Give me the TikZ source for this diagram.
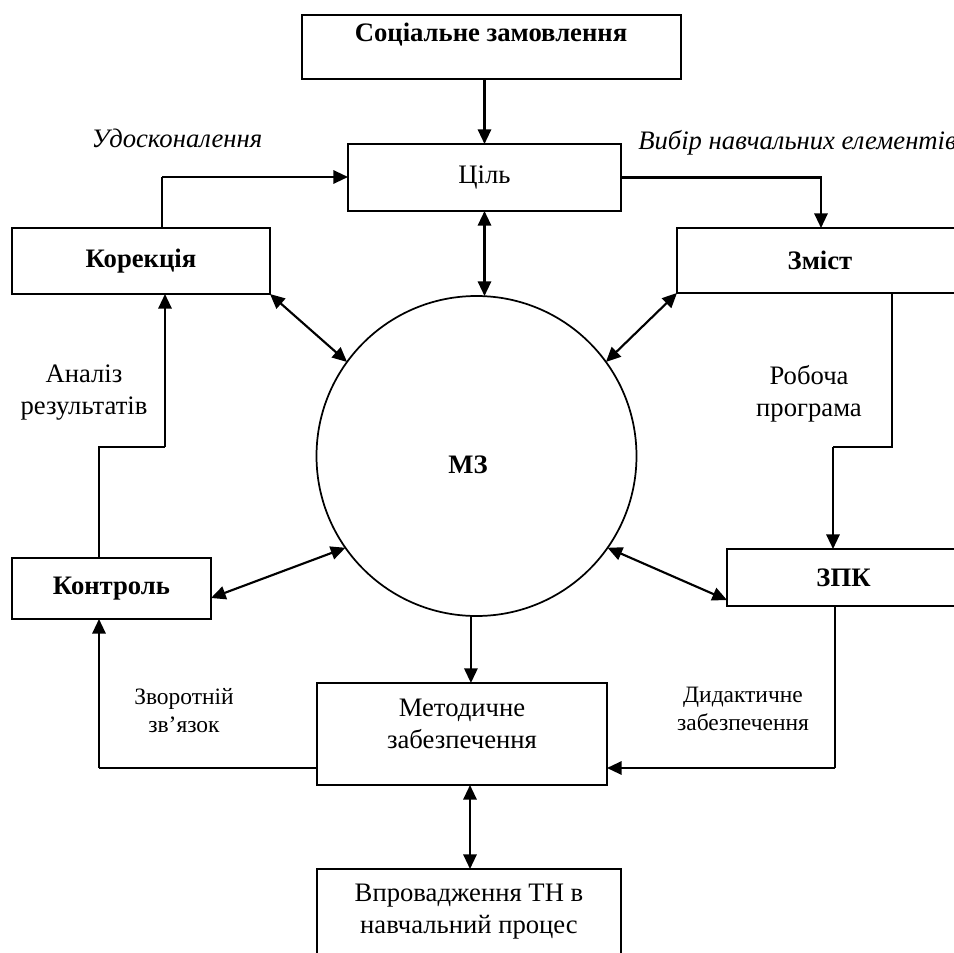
\documentclass[tikz,border=0pt]{standalone}
\usepackage{fontspec}
\setmainfont{Liberation Serif}
\usetikzlibrary{arrows.meta,calc}
\begin{document}
\begin{tikzpicture}[x=0.75pt,y=-0.75pt,
  box/.style={draw,line width=1.5pt,inner sep=0pt,outer sep=0pt},
  lbl/.style={font=\fontsize{20}{24}\selectfont,align=center,inner sep=0pt},
  blbl/.style={font=\fontsize{20}{24}\selectfont\bfseries,align=center,inner sep=0pt},
  ilbl/.style={font=\fontsize{20}{24}\selectfont\itshape,align=center,inner sep=0pt},
  slbl/.style={font=\fontsize{17.6}{21}\selectfont,align=center,inner sep=0pt},
  arr/.style={line width=1.6pt,-{Triangle[length=11pt,width=10pt]}},
  darr/.style={line width=1.6pt,{Triangle[length=11pt,width=10pt]}-{Triangle[length=11pt,width=10pt]}},
  ln/.style={line width=1.1pt}]
\useasboundingbox (0,0) rectangle (954,953);
\clip (0,0) rectangle (954,953);
% boxes
\node[box,minimum width=284.25pt,minimum height=48pt] (soc) at (491.5,47) {};
\node[blbl] (socT) at (491,35) {Соціальне замовлення};
\node[box,lbl,minimum width=204.75pt,minimum height=50.25pt] (ciel) at (484.5,177.5) {Ціль};
\node[box,blbl,minimum width=193.5pt,minimum height=49.5pt] (kor) at (141,261) {Корекція};
\node[box,blbl,minimum width=214.5pt,minimum height=48.75pt] (zmist) at (820,260.5) {Зміст};
\node[box,blbl,minimum width=174.75pt,minimum height=42.75pt] (zpk) at (843.5,577.5) {ЗПК};
\node[box,blbl,minimum width=149.25pt,minimum height=45.75pt] (kon) at (111.5,588.5) {Контроль};
\node[draw,circle,line width=1.3pt,minimum size=240pt,inner sep=0pt,outer sep=0pt] (mz) at (476.5,456) {};
\node[blbl] (mzT) at (468,465) {МЗ};
\node[box,minimum width=217.5pt,minimum height=76.5pt] (metod) at (462,734) {};
\node[lbl] (metodT) at (462,724) {Методичне\\забезпечення};
\node[box,minimum width=228pt,minimum height=79.5pt] (vpr) at (469,922) {};
\node[lbl] (vprT) at (469,912) {Впровадження ТН в\\навчальний процес};
% labels
\node[ilbl] (l1) at (177,138) {Удосконалення};
\node[ilbl,anchor=west] (l2) at (638,143) {Вибір навчальних елементів};
\node[lbl] (l3) at (84,393) {Аналіз\\результатів};
\node[lbl] (l4) at (809,394) {Робоча\\програма};
\node[slbl] (l5) at (184,711) {Зворотній\\зв’язок};
\node[slbl] (l6) at (743,709) {Дидактичне\\забезпечення};
% guide coordinates
\coordinate (xk) at (162,177);
\coordinate (xz) at (821,178);
\coordinate (c1) at (892,447);
\coordinate (c2) at (833,447);
\coordinate (c3) at (99,447);
\coordinate (c4) at (165,447);
\coordinate (c5) at (835,768);
\coordinate (c6) at (99,768);
\coordinate (xm) at (470,0);
% connectors
\draw[arr] (ciel.north |- soc.south) -- (ciel.north);
\draw[ln] (kor.north -| xk) -- (xk);
\draw[arr] (xk) -- (xk -| ciel.west);
\draw[arr] (ciel.east) -| (zmist.north -| xz);
\draw[darr] (ciel.south) -- (ciel.south |- mz.north);
\draw[darr] (kor.south east) -- (mz.144);
\draw[darr] (zmist.south west) -- (mz.36);
\draw[darr] ($(zpk.south west)+(0,-6)$) -- (mz.-35);
\draw[darr] ($(kon.south east)+(0,-21)$) -- (mz.215);
\draw[ln] (zmist.south -| c1) -- (c1) -- (c2);
\draw[arr] (c2) -- (zpk.north -| c2);
\draw[ln] (kon.north -| c3) -- (c3) -- (c4);
\draw[arr] (c4) -- (kor.south -| c4);
\draw[arr] (mz.-92) -- (mz.-92 |- metod.north);
\draw[ln] (zpk.south -| c5) -- (c5);
\draw[arr] (c5) -- (c5 -| metod.east);
\draw[ln] (metod.west |- c6) -- (c6);
\draw[arr] (c6) -- (kon.south -| c6);
\draw[darr] (metod.south -| xm) -- (vpr.north -| xm);
\end{tikzpicture}
\end{document}
